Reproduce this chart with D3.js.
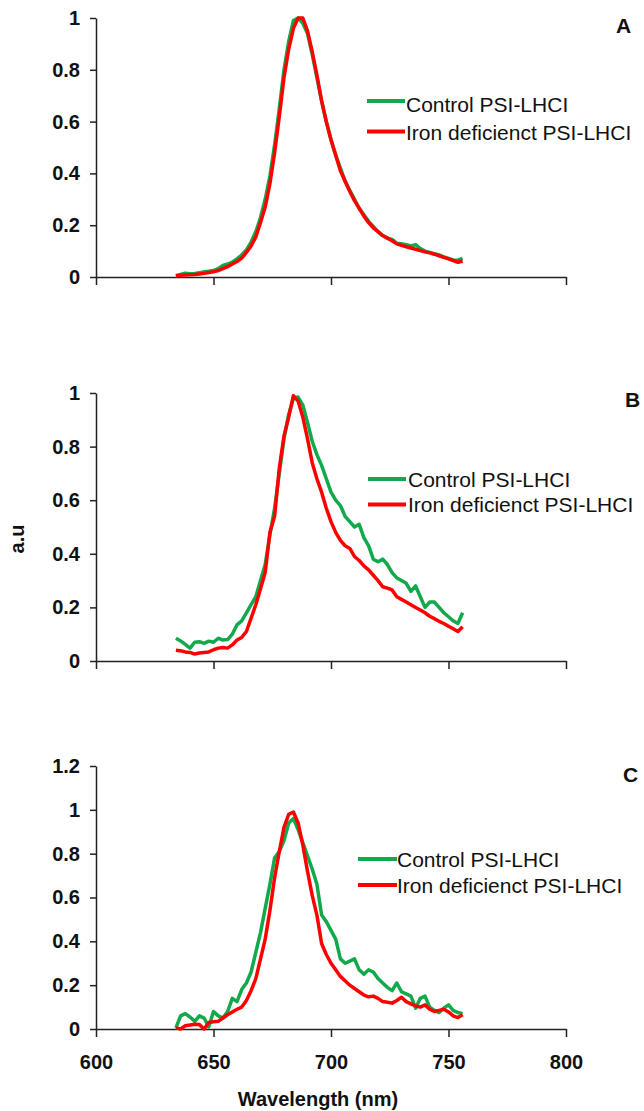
<!DOCTYPE html>
<html>
<head>
<meta charset="utf-8">
<script src="https://cdn.jsdelivr.net/npm/d3@7"></script>
<style>
  body { margin: 0; background: #fff; }
  svg { display: block; font-family: "Liberation Sans", Arial, sans-serif; }
  .tick text { font-weight: bold; font-size: 20px; fill: #111; }
  .domain, .tick line { stroke: #222; stroke-width: 1.5px; }
</style>
</head>
<body>
<div id="chart"></div>
<script>
// wavelengths (nm)
var wavelengths = [
  634,636,638,640,642,644,646,648,650,652,
  654,656,658,660,662,664,666,668,670,672,
  674,676,678,680,682,684,686,688,690,692,
  694,696,698,700,702,704,706,708,710,712,
  714,716,718,720,722,724,726,728,730,732,
  734,736,738,740,742,744,746,748,750,752,
  754,756];

// panel A
var controlA = [
  0.005,0.01,0.015,0.013,0.014,0.016,0.02,0.022,0.025,0.032,
  0.045,0.05,0.058,0.07,0.085,0.105,0.135,0.175,0.23,0.30,
  0.39,0.51,0.65,0.80,0.91,0.99,1.0,0.98,0.94,0.86,
  0.77,0.68,0.60,0.53,0.47,0.42,0.37,0.335,0.30,0.265,
  0.24,0.215,0.195,0.175,0.16,0.15,0.145,0.13,0.128,0.125,
  0.12,0.125,0.11,0.10,0.095,0.09,0.085,0.078,0.072,0.066,
  0.065,0.072];
var ironA = [
  0.005,0.007,0.008,0.009,0.010,0.012,0.014,0.017,0.020,0.025,
  0.032,0.040,0.050,0.060,0.073,0.095,0.12,0.155,0.21,0.27,
  0.36,0.48,0.62,0.77,0.88,0.96,1.00,1.00,0.95,0.87,
  0.78,0.68,0.60,0.53,0.47,0.41,0.37,0.33,0.295,0.265,
  0.235,0.21,0.19,0.175,0.16,0.15,0.14,0.128,0.122,0.117,
  0.112,0.107,0.102,0.097,0.093,0.088,0.082,0.076,0.07,0.063,
  0.057,0.062];

// panel B
var controlB = [
  0.085,0.075,0.062,0.048,0.07,0.072,0.066,0.074,0.07,0.085,
  0.078,0.08,0.10,0.135,0.15,0.18,0.21,0.24,0.30,0.36,
  0.47,0.57,0.70,0.83,0.92,0.98,0.985,0.955,0.89,0.82,
  0.77,0.73,0.68,0.63,0.60,0.58,0.54,0.52,0.50,0.51,
  0.46,0.43,0.38,0.37,0.38,0.36,0.33,0.31,0.30,0.29,
  0.26,0.28,0.24,0.20,0.22,0.22,0.20,0.18,0.165,0.15,
  0.14,0.18];
var ironB = [
  0.04,0.038,0.034,0.032,0.026,0.03,0.032,0.034,0.042,0.048,
  0.05,0.048,0.06,0.078,0.088,0.11,0.16,0.21,0.27,0.33,
  0.48,0.54,0.72,0.84,0.91,0.99,0.97,0.91,0.83,0.74,
  0.68,0.63,0.57,0.52,0.48,0.45,0.43,0.42,0.39,0.375,
  0.355,0.34,0.32,0.30,0.277,0.272,0.265,0.24,0.23,0.22,
  0.21,0.20,0.19,0.18,0.167,0.158,0.148,0.14,0.13,0.12,
  0.11,0.128];

// panel C
var controlC = [
  0.005,0.06,0.07,0.055,0.035,0.06,0.05,0.01,0.08,0.06,
  0.05,0.08,0.14,0.125,0.18,0.21,0.26,0.35,0.44,0.55,
  0.66,0.78,0.81,0.86,0.94,0.96,0.91,0.85,0.79,0.73,
  0.66,0.52,0.49,0.45,0.41,0.32,0.30,0.31,0.32,0.27,
  0.25,0.27,0.26,0.23,0.21,0.19,0.175,0.21,0.17,0.16,
  0.15,0.095,0.14,0.15,0.10,0.085,0.075,0.095,0.11,0.085,
  0.075,0.07];
var ironC = [
  0.005,0.0,0.015,0.018,0.022,0.02,0.0,0.03,0.033,0.035,
  0.05,0.065,0.078,0.09,0.10,0.13,0.175,0.23,0.32,0.41,
  0.54,0.69,0.81,0.92,0.98,0.99,0.94,0.84,0.72,0.61,
  0.52,0.39,0.34,0.30,0.27,0.24,0.22,0.20,0.185,0.17,
  0.155,0.147,0.15,0.14,0.125,0.122,0.118,0.13,0.145,0.125,
  0.115,0.105,0.10,0.11,0.09,0.08,0.085,0.09,0.078,0.06,
  0.052,0.065];

var xTicks = [600, 650, 700, 750, 800];
var yTicksAB = [0, 0.2, 0.4, 0.6, 0.8, 1];
var yTicksC = [0, 0.2, 0.4, 0.6, 0.8, 1, 1.2];
var seriesNames = ["Control PSI-LHCI", "Iron deficienct PSI-LHCI"];
var panelLetters = ["A", "B", "C"];

var colors = ["#12a84c", "#ff0000"];

var svgWidth = 644, svgHeight = 1111;

var svg = d3.select("#chart")
  .append("svg")
  .attr("width", svgWidth)
  .attr("height", svgHeight);

var x = d3.scaleLinear().domain([600, 800]).range([96, 566]);

// layout of each panel
var panels = [
  { control: controlA, iron: ironA, yMax: 1, ticks: yTicksAB, top: 18, bottom: 277,
    letter: [616, 33], legend: { x1: 367, x2: 405, tx: 406, ly: [101, 131.5], ty: [111.5, 140] } },
  { control: controlB, iron: ironB, yMax: 1, ticks: yTicksAB, top: 393, bottom: 661,
    letter: [625, 407], legend: { x1: 368, x2: 406, tx: 408, ly: [479, 504.5], ty: [486.5, 511.5] } },
  { control: controlC, iron: ironC, yMax: 1.2, ticks: yTicksC, top: 766, bottom: 1029,
    letter: [623, 782], legend: { x1: 358, x2: 397, tx: 397, ly: [859, 885], ty: [866.5, 892.5] } }
];

panels.forEach(function(p, i) {
  var y = d3.scaleLinear().domain([0, p.yMax]).range([p.bottom, p.top]);
  var g = svg.append("g");

  // x axis
  var bottomAxis = d3.axisBottom(x)
    .tickValues(xTicks)
    .tickSize(8)
    .tickSizeOuter(0)
    .tickPadding(18);
  var xg = g.append("g")
    .attr("transform", `translate(0, ${p.bottom})`)
    .call(bottomAxis);
  if (i < 2) xg.selectAll("text").remove();

  // y axis
  var leftAxis = d3.axisLeft(y)
    .tickValues(p.ticks)
    .tickSize(6)
    .tickSizeOuter(0)
    .tickPadding(10)
    .tickFormat(d3.format("~g"));
  g.append("g")
    .attr("transform", `translate(96, 0)`)
    .call(leftAxis);

  // curves
  var line = d3.line()
    .x(function(d, j) { return x(wavelengths[j]); })
    .y(function(d) { return y(d); });

  [p.control, p.iron].forEach(function(vals, k) {
    g.append("path")
      .datum(vals)
      .attr("fill", "none")
      .attr("stroke", colors[k])
      .attr("stroke-width", 3.5)
      .attr("stroke-linejoin", "round")
      .attr("d", line);
  });

  // legend
  seriesNames.forEach(function(name, k) {
    g.append("line")
      .attr("x1", p.legend.x1).attr("x2", p.legend.x2)
      .attr("y1", p.legend.ly[k]).attr("y2", p.legend.ly[k])
      .attr("stroke", colors[k])
      .attr("stroke-width", 4);
    g.append("text")
      .attr("x", p.legend.tx)
      .attr("y", p.legend.ty[k])
      .attr("font-size", "21px")
      .attr("fill", "#111")
      .text(name);
  });

  // panel letter
  g.append("text")
    .attr("x", p.letter[0])
    .attr("y", p.letter[1])
    .attr("font-size", "21px")
    .attr("font-weight", "bold")
    .attr("fill", "#111")
    .text(panelLetters[i]);
});

// axis titles
svg.append("text")
  .attr("transform", "translate(24, 539) rotate(-90)")
  .attr("text-anchor", "middle")
  .attr("font-size", "20px")
  .attr("font-weight", "bold")
  .attr("fill", "#111")
  .text("a.u");

svg.append("text")
  .attr("x", 318)
  .attr("y", 1106)
  .attr("text-anchor", "middle")
  .attr("font-size", "20px")
  .attr("font-weight", "bold")
  .attr("fill", "#111")
  .text("Wavelength (nm)");
</script>
</body>
</html>
